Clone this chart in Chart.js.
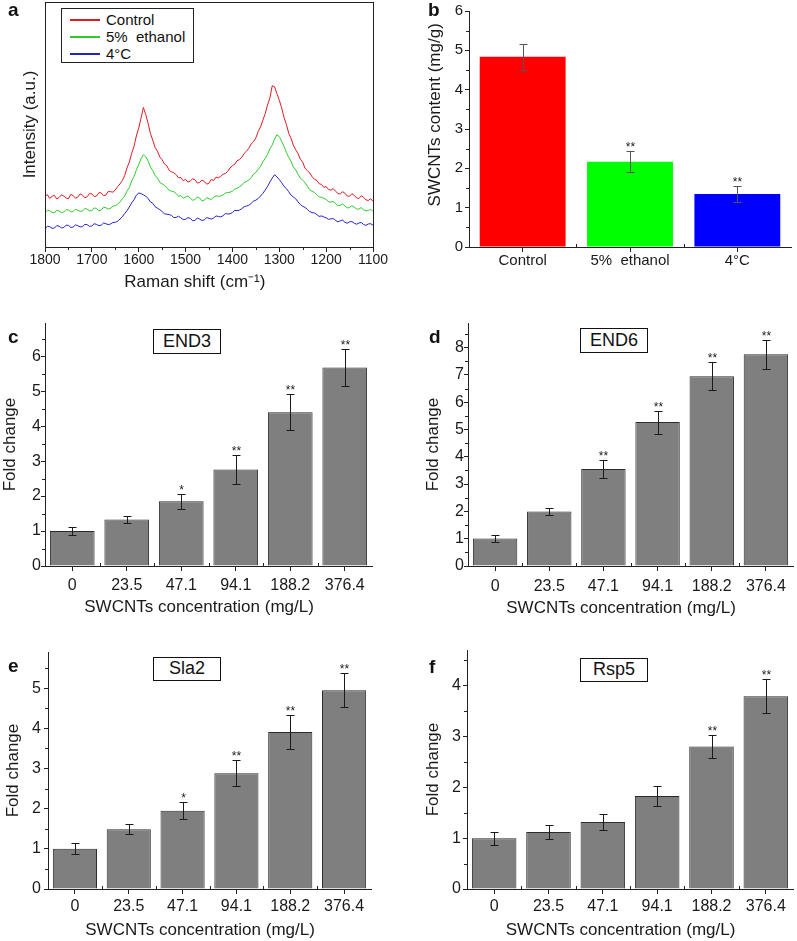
<!DOCTYPE html>
<html>
<head>
<meta charset="utf-8">
<script src="https://cdn.jsdelivr.net/npm/chart.js@4.4.1/dist/chart.umd.min.js"></script>
<style>
    body { margin: 0; background: #fff; width: 797px; height: 941px; position: relative; overflow: hidden;
           font-family: "Liberation Sans", Arial, sans-serif; color: #111; }
    canvas { position: absolute; }
    .letter { position: absolute; font-weight: bold; font-size: 19px; line-height: 19px; z-index: 2; }
    .gene { position: absolute; border: 1.5px solid #111; box-sizing: border-box; font-size: 18px;
            text-align: center; z-index: 2; background: #fff; }
    #legend { position: absolute; left: 61px; top: 8px; width: 133px; height: 55px; border: 1.5px solid #222;
              box-sizing: border-box; background: #fff; z-index: 2; }
    #legend .row { position: absolute; left: 0; height: 16px; width: 100%; }
    #legend .row i { position: absolute; left: 8px; top: 7px; width: 30px; height: 1.5px; }
    #legend .row span { position: absolute; left: 44px; top: -1px; font-size: 15px; line-height: 18px; white-space: pre; }
</style>
</head>
<body>

<canvas id="chartA" width="390" height="293" style="left:0;top:0"></canvas>
<canvas id="chartB" width="397" height="295" style="left:400px;top:0"></canvas>
<canvas id="chartC" width="400" height="318" style="left:0;top:300px"></canvas>
<canvas id="chartD" width="397" height="319" style="left:400px;top:300px"></canvas>
<canvas id="chartE" width="400" height="321" style="left:0;top:620px"></canvas>
<canvas id="chartF" width="397" height="321" style="left:400px;top:620px"></canvas>

<div class="letter" style="left:8px;top:0">a</div>
<div class="letter" style="left:428px;top:0">b</div>
<div class="letter" style="left:8px;top:327px">c</div>
<div class="letter" style="left:429px;top:327px">d</div>
<div class="letter" style="left:8px;top:656px">e</div>
<div class="letter" style="left:429px;top:657px">f</div>

<div class="gene" style="left:153px;top:329px;width:68px;height:25px;line-height:22px">END3</div>
<div class="gene" style="left:580px;top:328px;width:68px;height:25px;line-height:22px">END6</div>
<div class="gene" style="left:153px;top:657px;width:68px;height:24px;line-height:21px">Sla2</div>
<div class="gene" style="left:580px;top:658px;width:68px;height:24px;line-height:21px">Rsp5</div>

<div id="legend">
    <div class="row" style="top:3px"><i style="background:#e0191e"></i><span>Control</span></div>
    <div class="row" style="top:20px"><i style="background:#2ccd2c"></i><span>5%  ethanol</span></div>
    <div class="row" style="top:37px"><i style="background:#2323c8"></i><span>4°C</span></div>
</div>

<script>
    'use strict';
    var FONT = '"Liberation Sans", Arial, sans-serif';
    Chart.defaults.font.family = FONT;
    Chart.defaults.color = '#1a1a1a';

    // ---- panel a : Raman spectra (cm-1, arbitrary intensity) ----
    var ramanShift = [1800, 1795, 1790, 1785, 1780, 1775, 1770, 1765, 1760, 1755, 1750, 1745, 1740, 1735, 1730, 1725, 1720, 1715, 1710, 1705,
        1700, 1695, 1690, 1685, 1680, 1675, 1670, 1665, 1660, 1655, 1650, 1645, 1640, 1635, 1630, 1625, 1620, 1615, 1610, 1605,
        1600, 1595, 1590, 1585, 1580, 1575, 1570, 1565, 1560, 1555, 1550, 1545, 1540, 1535, 1530, 1525, 1520, 1515, 1510, 1505,
        1500, 1495, 1490, 1485, 1480, 1475, 1470, 1465, 1460, 1455, 1450, 1445, 1440, 1435, 1430, 1425, 1420, 1415, 1410, 1405,
        1400, 1395, 1390, 1385, 1380, 1375, 1370, 1365, 1360, 1355, 1350, 1345, 1340, 1335, 1330, 1325, 1320, 1315, 1310, 1305,
        1300, 1295, 1290, 1285, 1280, 1275, 1270, 1265, 1260, 1255, 1250, 1245, 1240, 1235, 1230, 1225, 1220, 1215, 1210, 1205,
        1200, 1195, 1190, 1185, 1180, 1175, 1170, 1165, 1160, 1155, 1150, 1145, 1140, 1135, 1130, 1125, 1120, 1115, 1110, 1105,
        1100];
    var controlSpec = [20.8, 21.6, 20.0, 20.9, 21.3, 19.8, 20.4, 21.5, 21.0, 20.2, 19.9, 21.7, 21.2, 20.1, 20.6, 21.9, 21.4, 20.3, 20.7, 22.0,
        21.9, 20.8, 21.0, 22.4, 22.3, 21.2, 21.4, 22.9, 22.8, 22.6, 23.5, 24.9, 26.0, 27.4, 29.5, 32.6, 35.0, 38.6, 41.5, 45.8,
        49.0, 53.2, 57.5, 54.6, 51.0, 46.8, 44.0, 41.0, 39.5, 37.1, 36.0, 34.2, 33.5, 31.6, 31.0, 30.6, 29.8, 28.5, 28.6, 27.3,
        27.9, 26.8, 27.2, 28.1, 27.8, 26.4, 26.6, 27.6, 27.0, 25.9, 26.3, 27.9, 27.4, 28.8, 28.5, 29.1, 30.0, 30.3, 31.2, 32.6,
        33.5, 34.1, 35.6, 36.0, 37.0, 38.6, 39.5, 40.7, 42.5, 43.4, 45.0, 47.6, 49.5, 52.3, 55.0, 58.6, 61.5, 66.5, 66.0, 63.2,
        60.5, 57.4, 53.5, 50.6, 47.0, 44.8, 42.0, 40.1, 38.5, 36.2, 35.0, 32.4, 31.5, 30.5, 29.0, 27.9, 27.5, 26.1, 25.8, 24.6,
        24.9, 23.7, 23.4, 24.1, 23.0, 22.1, 21.8, 22.8, 22.2, 21.0, 20.9, 22.0, 21.3, 20.2, 20.0, 21.1, 20.5, 19.4, 19.2, 19.9,
        18.8];
    var ethanolSpec = [14.2, 15.1, 15.0, 14.3, 14.0, 15.2, 14.8, 14.1, 14.4, 15.4, 15.3, 14.5, 14.6, 15.6, 15.1, 14.7, 14.8, 15.9, 15.6, 14.9,
        15.0, 16.1, 15.9, 15.0, 15.2, 16.4, 16.2, 15.6, 16.0, 16.9, 17.0, 17.6, 18.5, 19.9, 21.0, 23.1, 24.5, 27.2, 29.0, 31.8,
        34.0, 36.4, 38.0, 37.2, 35.5, 33.0, 31.5, 29.4, 28.5, 26.6, 26.0, 25.4, 24.5, 23.3, 23.0, 22.8, 22.0, 20.9, 21.2, 20.1,
        20.6, 21.0, 20.1, 19.3, 19.5, 20.6, 20.2, 19.0, 19.3, 20.4, 19.9, 19.6, 20.5, 21.1, 20.9, 21.0, 21.5, 22.3, 22.4, 22.6,
        23.0, 23.9, 24.2, 24.8, 25.5, 26.6, 27.0, 27.6, 28.6, 30.0, 30.8, 32.0, 33.2, 35.1, 36.5, 38.2, 40.5, 42.1, 44.5, 46.3,
        45.5, 43.6, 41.5, 39.0, 37.0, 35.4, 33.0, 31.8, 30.0, 28.3, 27.5, 26.6, 25.0, 23.6, 23.0, 22.5, 21.6, 20.6, 20.5, 20.1,
        19.6, 18.7, 18.5, 18.8, 18.0, 17.0, 17.2, 17.8, 17.0, 16.1, 16.3, 17.0, 16.4, 15.7, 15.6, 16.3, 15.3, 14.9, 15.0, 15.6,
        14.6];
    var coldSpec = [7.6, 8.5, 8.4, 7.7, 7.8, 8.8, 8.6, 7.9, 8.0, 9.0, 8.9, 8.1, 8.2, 9.1, 8.8, 8.3, 8.4, 9.3, 9.2, 8.5,
        8.7, 9.6, 9.3, 8.8, 9.0, 9.9, 9.6, 9.2, 9.5, 10.1, 10.2, 10.6, 11.5, 12.4, 13.8, 15.0, 16.5, 18.2, 19.5, 21.3,
        22.3, 22.0, 21.5, 21.0, 20.0, 18.6, 18.0, 16.6, 16.0, 15.4, 14.6, 13.7, 13.5, 13.4, 13.0, 12.1, 12.2, 12.7, 12.0, 11.3,
        11.4, 12.1, 11.8, 10.8, 11.0, 11.9, 11.5, 10.9, 11.2, 12.1, 11.8, 11.5, 12.0, 12.8, 12.6, 12.4, 12.9, 13.8, 13.6, 13.7,
        14.2, 15.1, 15.0, 15.2, 15.8, 16.6, 16.9, 17.2, 18.0, 18.9, 19.3, 20.0, 21.0, 22.1, 23.5, 25.0, 26.8, 28.4, 29.8, 28.9,
        27.8, 26.5, 25.0, 24.1, 22.8, 21.4, 20.6, 19.9, 18.6, 17.5, 16.8, 16.3, 15.5, 14.6, 14.2, 14.0, 13.4, 12.6, 12.8, 12.4,
        12.0, 11.4, 11.6, 11.7, 11.0, 10.4, 10.8, 11.1, 10.2, 9.8, 10.4, 10.5, 9.8, 9.4, 9.9, 10.1, 9.3, 8.9, 9.5, 9.6,
        9.0];

    // ---- panel b : SWCNTs content (mg/g) ----
    var contentLabels = ['Control', '5%  ethanol', '4°C'];
    var contentVals = [4.84, 2.17, 1.35];
    var contentErr = [0.33, 0.26, 0.20];
    var contentStars = ['', '**', '**'];

    // ---- panels c-f : fold change vs SWCNTs concentration (mg/L) ----
    var concLabels = ['0', '23.5', '47.1', '94.1', '188.2', '376.4'];
    var end3Vals = [1.00, 1.33, 1.85, 2.76, 4.40, 5.68];
    var end3Err = [0.12, 0.11, 0.22, 0.42, 0.52, 0.53];
    var end3Stars = ['', '', '*', '**', '**', '**'];
    var end6Vals = [1.01, 2.00, 3.55, 5.27, 6.95, 7.76];
    var end6Err = [0.13, 0.14, 0.32, 0.42, 0.51, 0.53];
    var end6Stars = ['', '', '**', '**', '**', '**'];
    var sla2Vals = [1.00, 1.49, 1.95, 2.88, 3.91, 4.95];
    var sla2Err = [0.14, 0.13, 0.21, 0.32, 0.42, 0.42];
    var sla2Stars = ['', '', '*', '**', '**', '**'];
    var rsp5Vals = [1.00, 1.12, 1.32, 1.83, 2.80, 3.79];
    var rsp5Err = [0.13, 0.14, 0.16, 0.20, 0.22, 0.33];
    var rsp5Stars = ['', '', '', '', '**', '**'];

    // error bars + significance stars on top of the bars
    var errorBars = {
        id: 'errorBars',
        afterDatasetsDraw: function (chart, args, opts) {
            if (!opts.err) return;
            var ctx = chart.ctx, y = chart.scales.y;
            var ds = chart.data.datasets[0];
            ctx.save();
            ctx.strokeStyle = opts.color || '#1a1a1a';
            ctx.lineWidth = 1;
            chart.getDatasetMeta(0).data.forEach(function (bar, i) {
                var v = ds.data[i], e = opts.err[i];
                var yt = Math.round(y.getPixelForValue(v + e)) + 0.5;
                var yb = Math.round(y.getPixelForValue(v - e)) + 0.5;
                var x = Math.round(bar.x) + 0.5;
                ctx.beginPath();
                ctx.moveTo(x, yt); ctx.lineTo(x, yb);
                ctx.moveTo(x - 4, yt); ctx.lineTo(x + 4, yt);
                ctx.moveTo(x - 4, yb); ctx.lineTo(x + 4, yb);
                ctx.stroke();
                if (opts.stars && opts.stars[i]) {
                    ctx.fillStyle = '#1a1a1a';
                    ctx.font = '12px ' + FONT;
                    ctx.textAlign = 'center';
                    ctx.textBaseline = 'alphabetic';
                    ctx.fillText(opts.stars[i], x, yt - 1);
                }
            });
            ctx.restore();
        }
    };

    // short minor ticks (half steps on y, category borders on x)
    var minorTicks = {
        id: 'minorTicks',
        afterDraw: function (chart, args, opts) {
            var ctx = chart.ctx, a = chart.chartArea, s = chart.scales;
            ctx.save();
            ctx.strokeStyle = '#222';
            ctx.lineWidth = 1;
            ctx.beginPath();
            if (opts.yStep) {
                for (var v = opts.yStep; v < s.y.max; v += 2 * opts.yStep) {
                    var p = Math.round(s.y.getPixelForValue(v)) + 0.5;
                    ctx.moveTo(a.left - 3, p); ctx.lineTo(a.left, p);
                }
            }
            if (opts.between) {
                for (var i = 0; i < s.x.ticks.length - 1; i++) {
                    var q = Math.round((s.x.getPixelForTick(i) + s.x.getPixelForTick(i + 1)) / 2) + 0.5;
                    ctx.moveTo(q, a.bottom); ctx.lineTo(q, a.bottom - 3);
                }
            }
            if (opts.xStep) {
                for (var w = s.x.min + opts.xStep; w < s.x.max; w += 2 * opts.xStep) {
                    var r = Math.round(s.x.getPixelForValue(w)) + 0.5;
                    ctx.moveTo(r, a.bottom); ctx.lineTo(r, a.bottom + 3);
                }
            }
            ctx.stroke();
            ctx.restore();
        }
    };

    var frame = {
        id: 'frame',
        afterDraw: function (chart) {
            var ctx = chart.ctx, a = chart.chartArea;
            ctx.save();
            ctx.strokeStyle = '#222';
            ctx.lineWidth = 1;
            ctx.strokeRect(Math.round(a.left) + 0.5, Math.round(a.top) + 0.5, Math.round(a.width), Math.round(a.height));
            ctx.restore();
        }
    };

    // panel a
    function series(vals) {
        return ramanShift.map(function (x, i) { return { x: x, y: vals[i] }; });
    }
    new Chart(document.getElementById('chartA'), {
        type: 'line',
        data: {
            datasets: [
                { data: series(controlSpec), borderColor: '#e0191e' },
                { data: series(ethanolSpec), borderColor: '#2ccd2c' },
                { data: series(coldSpec), borderColor: '#2323c8' }
            ]
        },
        options: {
            responsive: false, animation: false, devicePixelRatio: 1,
            elements: { point: { radius: 0 }, line: { borderWidth: 1, tension: 0 } },
            layout: { padding: { left: 20, top: 2, right: 17, bottom: 0 } },
            plugins: { legend: { display: false }, tooltip: { enabled: false }, minorTicks: { xStep: 50 } },
            scales: {
                x: {
                    type: 'linear', reverse: true, min: 1100, max: 1800,
                    afterFit: function (s) { s.height = 46; },
                    ticks: { stepSize: 100, font: { size: 14 }, padding: 0, maxRotation: 0,
                             callback: function (v) { return String(v); } },
                    grid: { drawOnChartArea: false, tickLength: 5, color: '#222' },
                    border: { display: false },
                    title: { display: true, text: 'Raman shift (cm\u207B\u00B9)      ', font: { size: 17 }, padding: 0 }
                },
                y: {
                    min: 0, max: 101,
                    afterFit: function (s) { s.width = 25; },
                    ticks: { display: false },
                    grid: { display: false },
                    border: { display: false },
                    title: { display: true, text: 'Intensity (a.u.)', font: { size: 17 }, padding: 0 }
                }
            }
        },
        plugins: [minorTicks, frame]
    });

    // panels b-f
    function barPanel(id, p) {
        return new Chart(document.getElementById(id), {
            type: 'bar',
            data: {
                labels: p.labels,
                datasets: [{
                    data: p.values,
                    backgroundColor: p.colors || '#7f7f7f',
                    borderColor: p.colors ? p.colors : '#2b2b2b',
                    borderWidth: p.colors ? 0 : 1,
                    barPercentage: p.barPct,
                    categoryPercentage: 1
                }]
            },
            options: {
                responsive: false, animation: false, devicePixelRatio: 1,
                layout: { padding: p.pad },
                plugins: {
                    legend: { display: false }, tooltip: { enabled: false },
                    errorBars: { err: p.err, stars: p.stars, color: p.errColor },
                    minorTicks: { yStep: 0.5, between: true }
                },
                scales: {
                    x: {
                        afterFit: function (s) { s.height = p.xH; },
                        ticks: { font: { size: p.fs }, padding: p.xPad, maxRotation: 0, autoSkip: false },
                        grid: { drawOnChartArea: false, offset: false, tickLength: 5, color: '#222' },
                        border: { color: '#222' },
                        title: { display: !!p.xTitle, text: p.xTitle, font: { size: 17 }, padding: 0 }
                    },
                    y: {
                        min: 0, max: p.yMax, bounds: 'data',
                        afterFit: function (s) { s.width = p.yW; },
                        ticks: {
                            stepSize: 1, includeBounds: false, font: { size: p.fs }, padding: p.yPad,
                            callback: function (v) { return Number.isInteger(v) ? v : ''; }
                        },
                        grid: {
                            drawOnChartArea: false, tickLength: 4,
                            tickColor: function (c) { return Number.isInteger(c.tick.value) ? '#222' : 'rgba(0,0,0,0)'; }
                        },
                        border: { color: '#222' },
                        title: { display: true, text: p.yTitle, font: { size: 17 }, padding: 0 }
                    }
                }
            },
            plugins: [errorBars, minorTicks]
        });
    }

    var concTitle = 'SWCNTs concentration (mg/L)    ';

    barPanel('chartB', {
        labels: contentLabels, values: contentVals, err: contentErr, stars: contentStars,
        colors: ['#ff0000', '#00ff00', '#0000ff'], errColor: '#555', barPct: 0.8, fs: 15,
        yMax: 6, yW: 44, yPad: 2, xH: 48, xPad: 0,
        pad: { left: 25, top: 9, right: 6, bottom: 0 },
        yTitle: '      SWCNTs content (mg/g)', xTitle: ''
    });
    barPanel('chartC', {
        labels: concLabels, values: end3Vals, err: end3Err, stars: end3Stars, barPct: 0.82, fs: 16,
        yMax: 6.95, yW: 45, yPad: 0, xH: 52, xPad: 5,
        pad: { left: 0, top: 23, right: 28, bottom: 0 },
        yTitle: 'Fold change', xTitle: concTitle
    });
    barPanel('chartD', {
        labels: concLabels, values: end6Vals, err: end6Err, stars: end6Stars, barPct: 0.82, fs: 16,
        yMax: 8.9, yW: 45, yPad: 0, xH: 53, xPad: 6,
        pad: { left: 23, top: 23, right: 4, bottom: 0 },
        yTitle: 'Fold change', xTitle: concTitle
    });
    barPanel('chartE', {
        labels: concLabels, values: sla2Vals, err: sla2Err, stars: sla2Stars, barPct: 0.82, fs: 16,
        yMax: 5.9, yW: 45, yPad: 3, xH: 52, xPad: 3,
        pad: { left: 3, top: 32, right: 29, bottom: 0 },
        yTitle: 'Fold change', xTitle: concTitle
    });
    barPanel('chartF', {
        labels: concLabels, values: rsp5Vals, err: rsp5Err, stars: rsp5Stars, barPct: 0.82, fs: 16,
        yMax: 4.7, yW: 44, yPad: 2, xH: 52, xPad: 3,
        pad: { left: 23, top: 30, right: 4, bottom: 0 },
        yTitle: 'Fold change', xTitle: concTitle
    });
</script>
</body>
</html>
